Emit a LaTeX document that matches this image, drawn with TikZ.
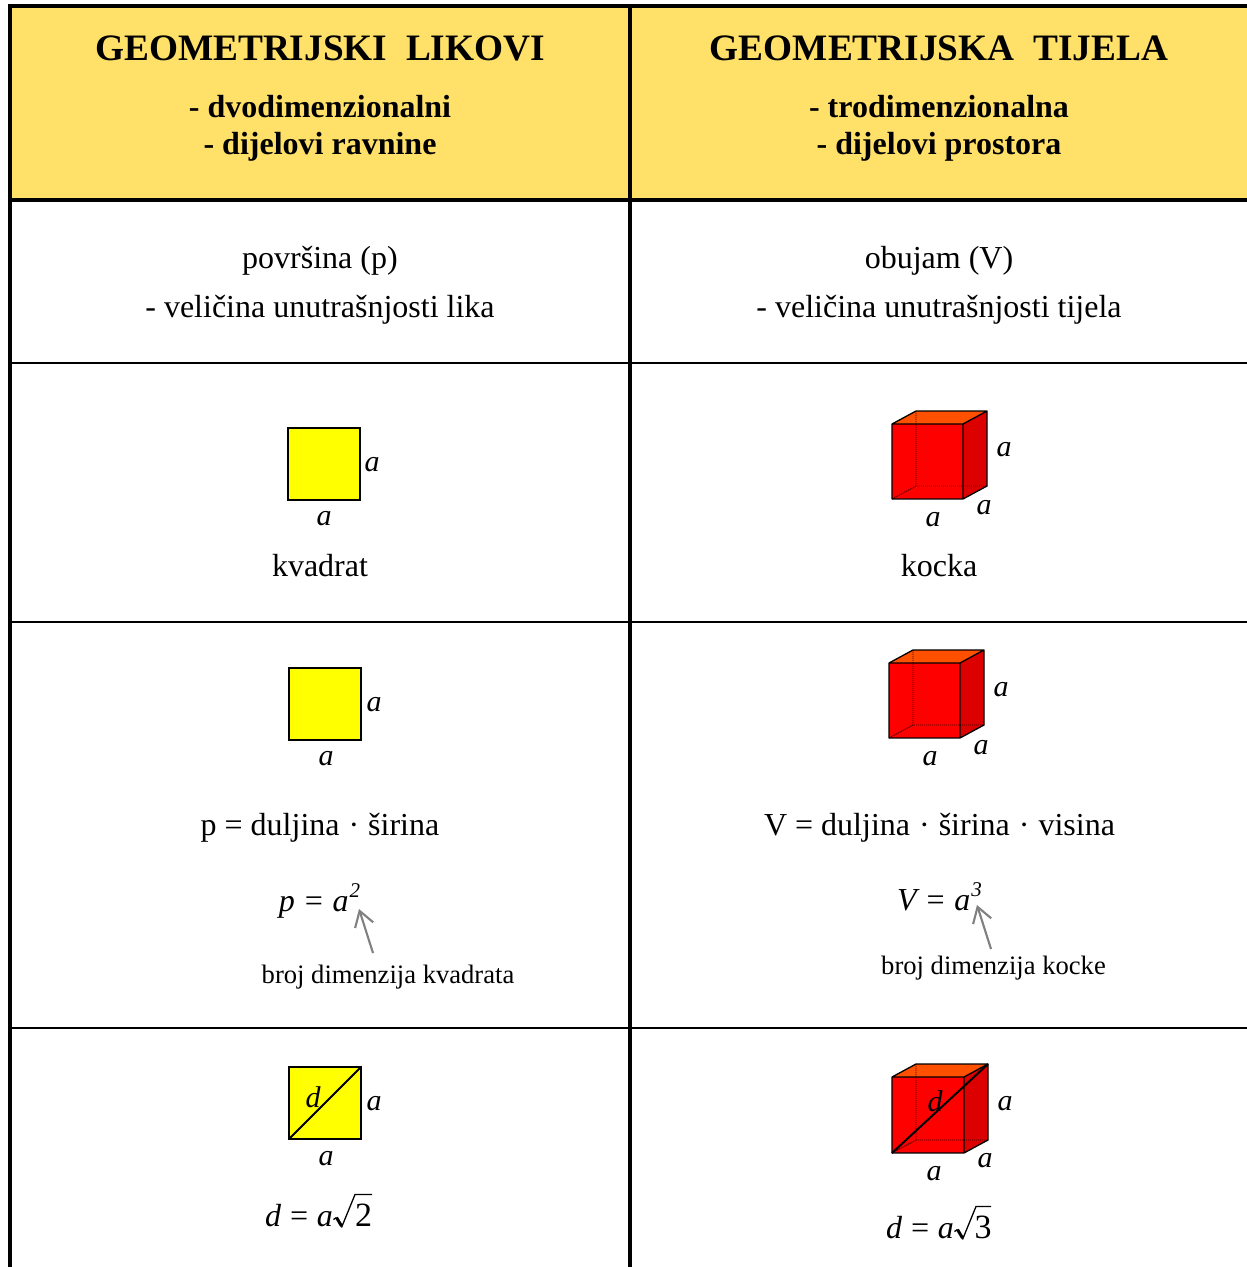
\documentclass[tikz,border=0pt]{standalone}
\usepackage{fontspec}
\setmainfont{Liberation Serif}
\usetikzlibrary{arrows.meta}
\definecolor{headfill}{HTML}{FFE069}
\definecolor{cubefront}{HTML}{FF0000}
\definecolor{cubetop}{HTML}{FF5000}
\definecolor{cubeside}{HTML}{DD0000}
\definecolor{figfill}{HTML}{FFFF00}
\definecolor{pointercol}{HTML}{808080}
\tikzset{x=1pt,y=-1pt,
 heavy/.style={line width=4pt,black},
 thin rule/.style={line width=2pt,black},
 head/.style={font=\fontsize{37.3}{37}\selectfont\bfseries,inner sep=0pt,anchor=base},
 subhead/.style={font=\fontsize{32}{32}\selectfont\bfseries,inner sep=0pt,anchor=base},
 body/.style={font=\fontsize{32}{32}\selectfont,inner sep=0pt,anchor=base},
 small/.style={font=\fontsize{26.6}{26}\selectfont,inner sep=0pt,anchor=base},
 var/.style={font=\fontsize{30}{30}\selectfont\itshape,inner sep=0pt,anchor=base},
 formula/.style={font=\fontsize{32}{32}\selectfont\itshape,inner sep=0pt,anchor=base},
 rootdigit/.style={font=\fontsize{34}{34}\selectfont,inner sep=0pt,anchor=base},
 fig/.style={draw=black,line width=1.6pt,fill=figfill},
 pointer/.style={draw=pointercol,line width=2.1pt,-{Straight Barb[length=15pt,width=19pt,line width=2.1pt]}},
}
\newcommand{\redcube}[4]{%
 \begin{scope}[shift={(#1,#2)}]
 \fill[cubefront] (0,0) rectangle (#3,#4);
 \fill[cubetop] (0,0) -- (24,-13) -- (24+#3,-13) -- (#3,0) -- cycle;
 \fill[cubeside] (#3,0) -- (24+#3,-13) -- (24+#3,#4-13) -- (#3,#4) -- cycle;
 \draw[black!75!red,line width=0.9pt,dash pattern=on 1.2pt off 0.8pt] (24,-13) -- (24,#4-13) -- (24+#3,#4-13) (24,#4-13) -- (0,#4);
 \draw[black,line width=1.3pt,line join=round] (0,0) rectangle (#3,#4) (0,0) -- (24,-13) -- (24+#3,-13) -- (#3,0) (24+#3,-13) -- (24+#3,#4-13) -- (#3,#4);
 \end{scope}}
% #1,#2 shift, #3 end of the overline
\newcommand{\rootsign}[3]{%
 \begin{scope}[shift={(#1,#2)}]
 \draw[black,line width=1.3pt] (0,1219.5) -- (3,1217.5);
 \draw[black,line width=3pt] (3,1217.5) -- (8,1226);
 \draw[black,line width=1.3pt,line join=miter] (8,1227.5) -- (21.5,1194.5) -- (#3,1194.5);
 \end{scope}}
\begin{document}
\begin{tikzpicture}
\useasboundingbox (0,0) rectangle (1247,1267);
\fill[white] (0,0) rectangle (1247,1267);
\fill[headfill] (10,6) rectangle (1247,200);
\draw[heavy] (10,1267) -- (10,6) -- (1247,6);
\draw[heavy] (630,6) -- (630,1267);
\draw[heavy] (10,200) -- (1247,200);
\draw[thin rule] (10,363) -- (1247,363);
\draw[thin rule] (10,622) -- (1247,622);
\draw[thin rule] (10,1028) -- (1247,1028);

\node[head] (hl) at (320,60.5) {GEOMETRIJSKI\ \ LIKOVI};
\node[subhead] (hl1) at (320,117) {- dvodimenzionalni};
\node[subhead] (hl2) at (320,154) {- dijelovi ravnine};
\node[head] (hr) at (939,60.5) {GEOMETRIJSKA\ \ TIJELA};
\node[subhead] (hr1) at (939,117) {- trodimenzionalna};
\node[subhead] (hr2) at (939,154) {- dijelovi prostora};

\node[body] (pl1) at (320,268) {površina (p)};
\node[body] (pl2) at (320,317) {- veličina unutrašnjosti lika};
\node[body] (pr1) at (939,268) {obujam (V)};
\node[body] (pr2) at (939,317) {- veličina unutrašnjosti tijela};

% row 1
\draw[fig] (288,428) rectangle (360,500);
\node[var] (a1) at (372,471) {a};
\node[var] (a2) at (324,525) {a};
\node[body] (kv) at (320,576) {kvadrat};
\redcube{892}{424}{71}{75}
\node[var] (a3) at (1004,456) {a};
\node[var] (a4) at (984,514) {a};
\node[var] (a5) at (933,526) {a};
\node[body] (ko) at (939,576) {kocka};

% row 2
\draw[fig] (289,668) rectangle (361,740);
\node[var] (b1) at (374,711) {a};
\node[var] (b2) at (326,765) {a};
\node[body] (f1) at (320,835) {p = duljina\hspace{1pt} · \hspace{1pt}širina};
\node[formula] (f2) at (319.5,911) {p = a\kern1pt\raisebox{14pt}{\fontsize{21}{21}\selectfont 2}};
\node[small] (n1) at (388,983) {broj dimenzija kvadrata};
\coordinate (t1) at (359,909);
\draw[pointer] (373,953) -- (t1);
\redcube{889}{663}{71}{75}
\node[var] (b3) at (1001,696) {a};
\node[var] (b4) at (981,754) {a};
\node[var] (b5) at (930,765) {a};
\node[body] (f3) at (939.5,835) {V = duljina\hspace{1pt} · \hspace{1pt}širina\hspace{1pt} · \hspace{1pt}visina};
\node[formula] (f4) at (939.5,910) {V = a\kern1pt\raisebox{14pt}{\fontsize{21}{21}\selectfont 3}};
\node[small] (n2) at (993.5,974) {broj dimenzija kocke};
\coordinate (t2) at (977,905);
\draw[pointer] (991,949) -- (t2);

% row 3
\draw[fig] (289,1067) rectangle (361,1139);
\draw[black,line width=1.8pt] (289,1139) -- (361,1067);
\node[var] (d1) at (313,1107) {d};
\node[var] (c1) at (374,1110) {a};
\node[var] (c2) at (326,1165) {a};
\node[formula,anchor=base west] (e1) at (265,1226) {\spaceskip=7pt d = a};
\rootsign{333.5}{0}{38.5}
\node[rootdigit] (r1) at (363.5,1226) {2};
\redcube{892}{1077}{72}{76}
\draw[black,line width=2pt] (892,1153) -- (988,1064);
\node[var] (d2) at (935,1111) {d};
\node[var] (c3) at (1005,1110) {a};
\node[var] (c4) at (985,1167) {a};
\node[var] (c5) at (934,1180) {a};
\node[formula,anchor=base west] (e2) at (886,1238) {\spaceskip=7pt d = a};
\rootsign{954.5}{12}{36.5}
\node[rootdigit] (r2) at (983,1238) {3};
\end{tikzpicture}
\end{document}
